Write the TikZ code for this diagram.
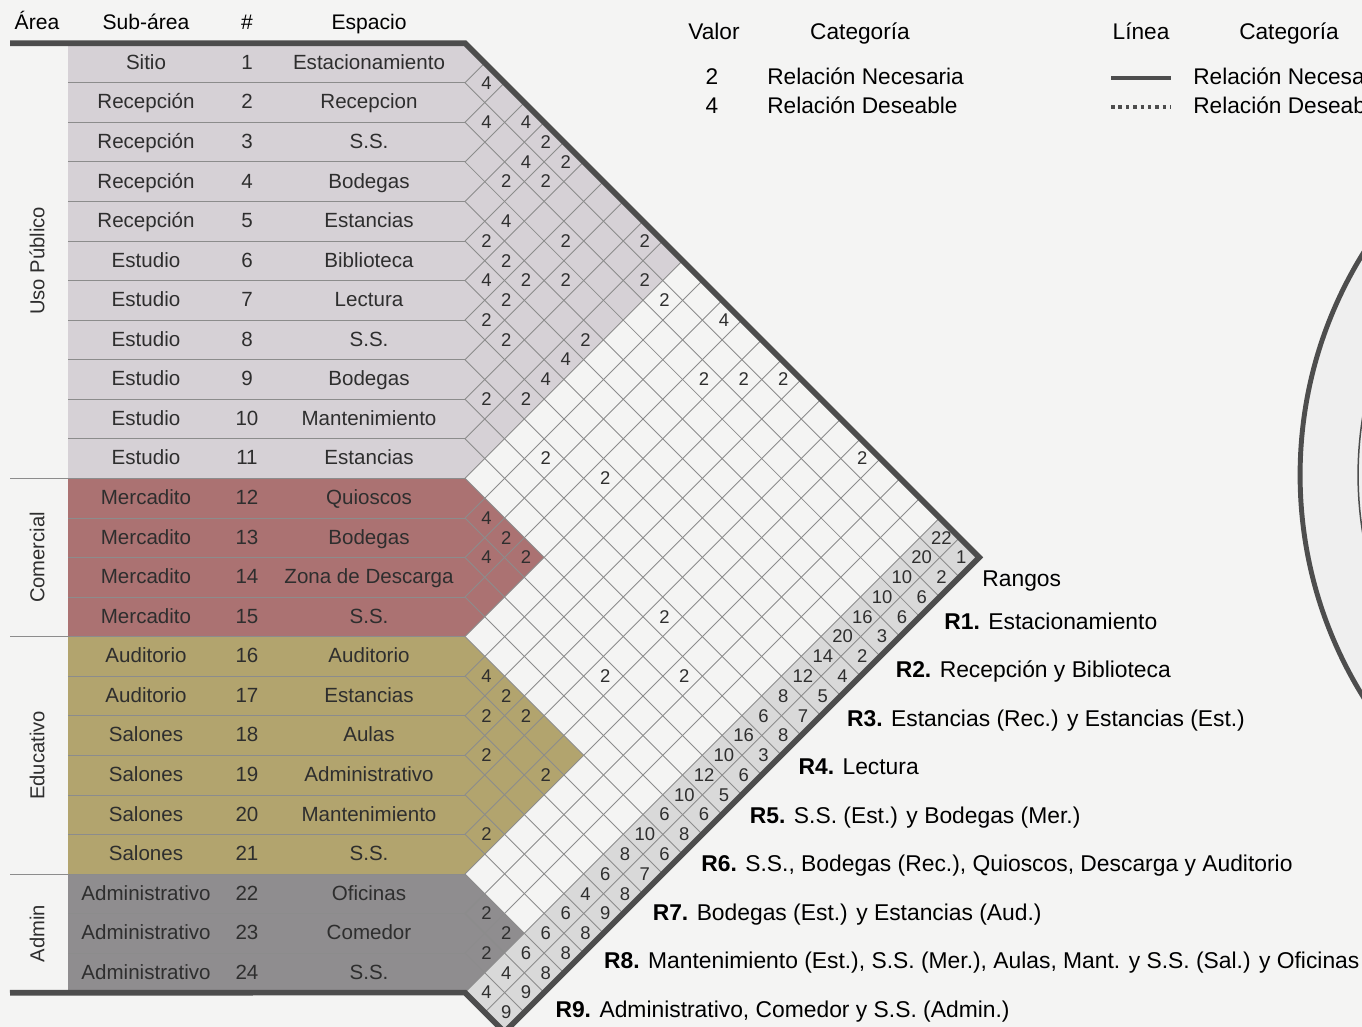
\documentclass[tikz,border=0pt]{standalone}
\usepackage{fontspec}
\setmainfont{Liberation Sans}
\usepackage{tikz}
\usetikzlibrary{positioning}
\usepackage{xcolor}
\definecolor{Papel}{HTML}{F4F4F3}
\definecolor{CirculoGris}{HTML}{EFEFEF}
\definecolor{UsoLila}{HTML}{D6D1D6}
\definecolor{ComRojo}{HTML}{AB7272}
\definecolor{EduOcre}{HTML}{B2A46E}
\definecolor{AdmGris}{HTML}{8F8D8F}
\definecolor{RangoGris}{HTML}{D9D9D9}
\definecolor{BordeOscuro}{HTML}{4D4D4D}
\definecolor{LineaGris}{HTML}{8C8C8C}
\definecolor{TextoOscuro}{HTML}{2E2E2E}

\begin{document}
\begin{tikzpicture}[x=0.02cm, y=-0.02cm,
		tabla/.style={font=\fontsize{11.7}{14}\selectfont, text=TextoOscuro,
			inner sep=0pt, text height=0.72em, text depth=0pt},
		encabezado/.style={font=\fontsize{12}{14}\selectfont, text=black,
			inner sep=0pt, text height=0.72em, text depth=0pt},
		area/.style={font=\fontsize{11.5}{14}\selectfont, text=TextoOscuro, rotate=90,
			inner sep=0pt, text height=0.72em, text depth=0pt},
		valor/.style={font=\fontsize{10.5}{12}\selectfont, text=TextoOscuro,
			inner sep=0pt, text height=0.72em, text depth=0pt, xshift=1pt},
		leyenda/.style={font=\fontsize{12.9}{15}\selectfont, text=black,
			inner sep=0pt, text height=0.72em, text depth=0pt},
		rango/.style={font=\fontsize{13}{15}\selectfont, text=black, anchor=west,
			inner sep=0pt, text height=0.72em, text depth=0pt},
		rejilla/.style={draw=LineaGris, line width=0.5pt},
		borde/.style={draw=BordeOscuro, line width=3.2pt, line join=miter}
		]
		\clip (0,0) rectangle (1362,1027);
		\fill[Papel] (0,0) rectangle (1362,1027);
		
		% circulo (cortado por el borde)
		\draw[BordeOscuro, line width=2.8pt, fill=CirculoGris] (1721,475) circle[radius=8.42cm];
		\draw[BordeOscuro, line width=0.85pt] (1721,475) circle[radius=7.26cm];
		
		% fondos de la tabla
		\fill[UsoLila] (68,43.2) rectangle (465,478.4);
		\fill[ComRojo] (68,478.4) rectangle (465,636.7);
		\fill[EduOcre] (68,636.7) rectangle (465,874.1);
		\fill[AdmGris] (68,874.1) rectangle (465,992.8);
		
		% matriz de relaciones
		\begin{scope}[shift={(465,23.435)}, x={(0.39565cm,-0.39565cm)}, y={(-0.39565cm,-0.39565cm)}]
			\fill[UsoLila] (0.5,0.5) -- (11.5,0.5) -- (11.5,11.5) -- cycle;
			\fill[ComRojo] (11.5,11.5) -- (15.5,11.5) -- (15.5,15.5) -- cycle;
			\fill[EduOcre] (15.5,15.5) -- (21.5,15.5) -- (21.5,21.5) -- cycle;
			\fill[AdmGris] (21.5,21.5) -- (24.5,21.5) -- (24.5,24.5) -- cycle;
			\fill[RangoGris] (24.5,0.5) -- (26.5,0.5) -- (26.5,24.5) -- (24.5,24.5) -- cycle;
			\foreach \k in {1,...,23}
			\draw[rejilla] (\k+0.5,\k+0.5) -- (26.5,\k+0.5);
			\foreach \m in {1,...,25}
			\draw[rejilla] (\m+0.5,0.5) -- (\m+0.5,{min(\m+0.5,24.5)});
			\foreach \i/\j/\v in {1/2/4, 2/3/4, 1/4/4, 1/5/2, 2/5/4, 1/6/2, 3/5/2, 2/6/2,
				4/6/4, 5/6/2, 3/8/2, 1/10/2, 5/7/2, 6/7/4, 5/8/2, 4/9/2, 2/11/2, 2/12/2,
				6/8/2, 7/8/2, 1/14/4, 7/9/2, 5/11/2, 6/11/4, 7/11/4, 3/15/2, 2/16/2,
				1/17/2, 9/10/2, 8/11/2, 9/13/2, 8/15/2, 1/21/2, 12/13/4, 12/14/2,
				13/14/4, 12/15/2, 10/20/2, 13/20/2, 11/22/2, 16/17/4, 16/18/2, 17/18/2,
				16/19/2, 18/19/2, 17/21/2, 20/21/2, 22/23/2, 22/24/2, 23/24/2}
			\node[valor] (v-\i-\j) at (\j,\i) {\v};
			\foreach \v [count=\i] in {22,20,10,10,16,20,14,12,8,6,16,10,12,10,6,10,8,6,4,6,6,6,4,4}
			\node[valor] (p-\i) at (25,\i) {\v};
			\foreach \v [count=\i] in {1,2,6,6,3,2,4,5,7,8,3,6,5,6,8,6,7,8,9,8,8,8,9,9}
			\node[valor] (r-\i) at (26,\i) {\v};
			\coordinate (m-tl) at (0.5,0.5);
			\coordinate (m-ap) at (26.5,0.5);
			\coordinate (m-bt) at (26.5,24.5);
			\coordinate (m-bl) at (24.5,24.5);
		\end{scope}
		
		% lineas de filas y de areas
		\foreach \k in {1,...,23}
		\draw[rejilla] (68,{63+(\k-0.5)*39.565}) -- (465,{63+(\k-0.5)*39.565});
		\foreach \k in {11,15,21}
		\draw[rejilla] (10,{63+(\k-0.5)*39.565}) -- (68,{63+(\k-0.5)*39.565});
		\draw[borde] (10,43.2) -- (m-tl) -- (m-ap) -- (m-bt) -- (m-bl) -- (10,992.8);
		
		% encabezados
		\node[encabezado] (h-area) at (37,23) {Área};
		\node[encabezado] (h-sub) at (146,23) {Sub-área};
		\node[encabezado] (h-num) at (247,23) {\#};
		\node[encabezado] (h-esp) at (369,23) {Espacio};
		
		% filas
		\foreach \sub/\esp [count=\i] in {Sitio/Estacionamiento, Recepción/Recepcion,
			Recepción/S.S., Recepción/Bodegas, Recepción/Estancias, Estudio/Biblioteca,
			Estudio/Lectura, Estudio/S.S., Estudio/Bodegas, Estudio/Mantenimiento,
			Estudio/Estancias, Mercadito/Quioscos, Mercadito/Bodegas,
			Mercadito/Zona de Descarga, Mercadito/S.S., Auditorio/Auditorio,
			Auditorio/Estancias, Salones/Aulas, Salones/Administrativo,
			Salones/Mantenimiento, Salones/S.S., Administrativo/Oficinas,
			Administrativo/Comedor, Administrativo/S.S.}
		{
			\node[tabla] (sub-\i) at (146,{63+(\i-1)*39.565}) {\sub};
			\node[tabla] (num-\i) at (247,{63+(\i-1)*39.565}) {\i};
			\node[tabla] (esp-\i) at (369,{63+(\i-1)*39.565}) {\esp};
		}
		
		% areas
		\node[area] (a-uso) at (38,260.8) {Uso Público};
		\node[area] (a-com) at (38,557.5) {Comercial};
		\node[area] (a-edu) at (38,755.4) {Educativo};
		\node[area] (a-adm) at (38,933.5) {Admin};
		
		% leyenda de valores
		\node[leyenda] (l-valor) at (714,33) {Valor};
		\node[leyenda] (l-cat1) at (860,33) {Categoría};
		\node[leyenda] (l-2) at (712,78) {2};
		\node[leyenda] (l-4) at (712,107) {4};
		\node[leyenda, anchor=west] (l-nec) at (767,78) {Relación Necesaria};
		\node[leyenda, anchor=west] (l-des) at (767,107) {Relación Deseable};
		
		% leyenda de lineas
		\node[leyenda] (l-linea) at (1141,33) {Línea};
		\node[leyenda] (l-cat2) at (1289,33) {Categoría};
		\node[leyenda, anchor=west] (l-nec2) at (1193,78) {Relación Necesaria};
		\node[leyenda, anchor=west] (l-des2) at (1193,107) {Relación Deseable};
		\coordinate[left=0.44cm of l-nec2.west] (ls-b);
		\coordinate[left=1.64cm of l-nec2.west] (ls-a);
		\coordinate[left=0.44cm of l-des2.west] (ld-b);
		\coordinate[left=1.64cm of l-des2.west] (ld-a);
		\draw[BordeOscuro, line width=2.2pt] (ls-a) -- (ls-b);
		\draw[BordeOscuro, line width=1.8pt, dash pattern=on 2pt off 2.2pt] (ld-a) -- (ld-b);
		
		% rangos
		\node[rango] (rangos) at (982,580) {Rangos};
		\foreach \t [count=\n] in {Estacionamiento, Recepción y Biblioteca,
			Estancias (Rec.) y Estancias (Est.), Lectura, S.S. (Est.) y Bodegas (Mer.),
			{S.S., Bodegas (Rec.), Quioscos, Descarga y Auditorio},
			Bodegas (Est.) y Estancias (Aud.),
			{Mantenimiento (Est.), S.S. (Mer.), Aulas, Mant. y S.S. (Sal.) y Oficinas},
			{Administrativo, Comedor y S.S. (Admin.)}}
		\node[rango] (rg-\n) at ({944-(\n-1)*48.6},{623+(\n-1)*48.5}) {\textbf{R\n.} \t};
	\end{tikzpicture}
\end{document}
